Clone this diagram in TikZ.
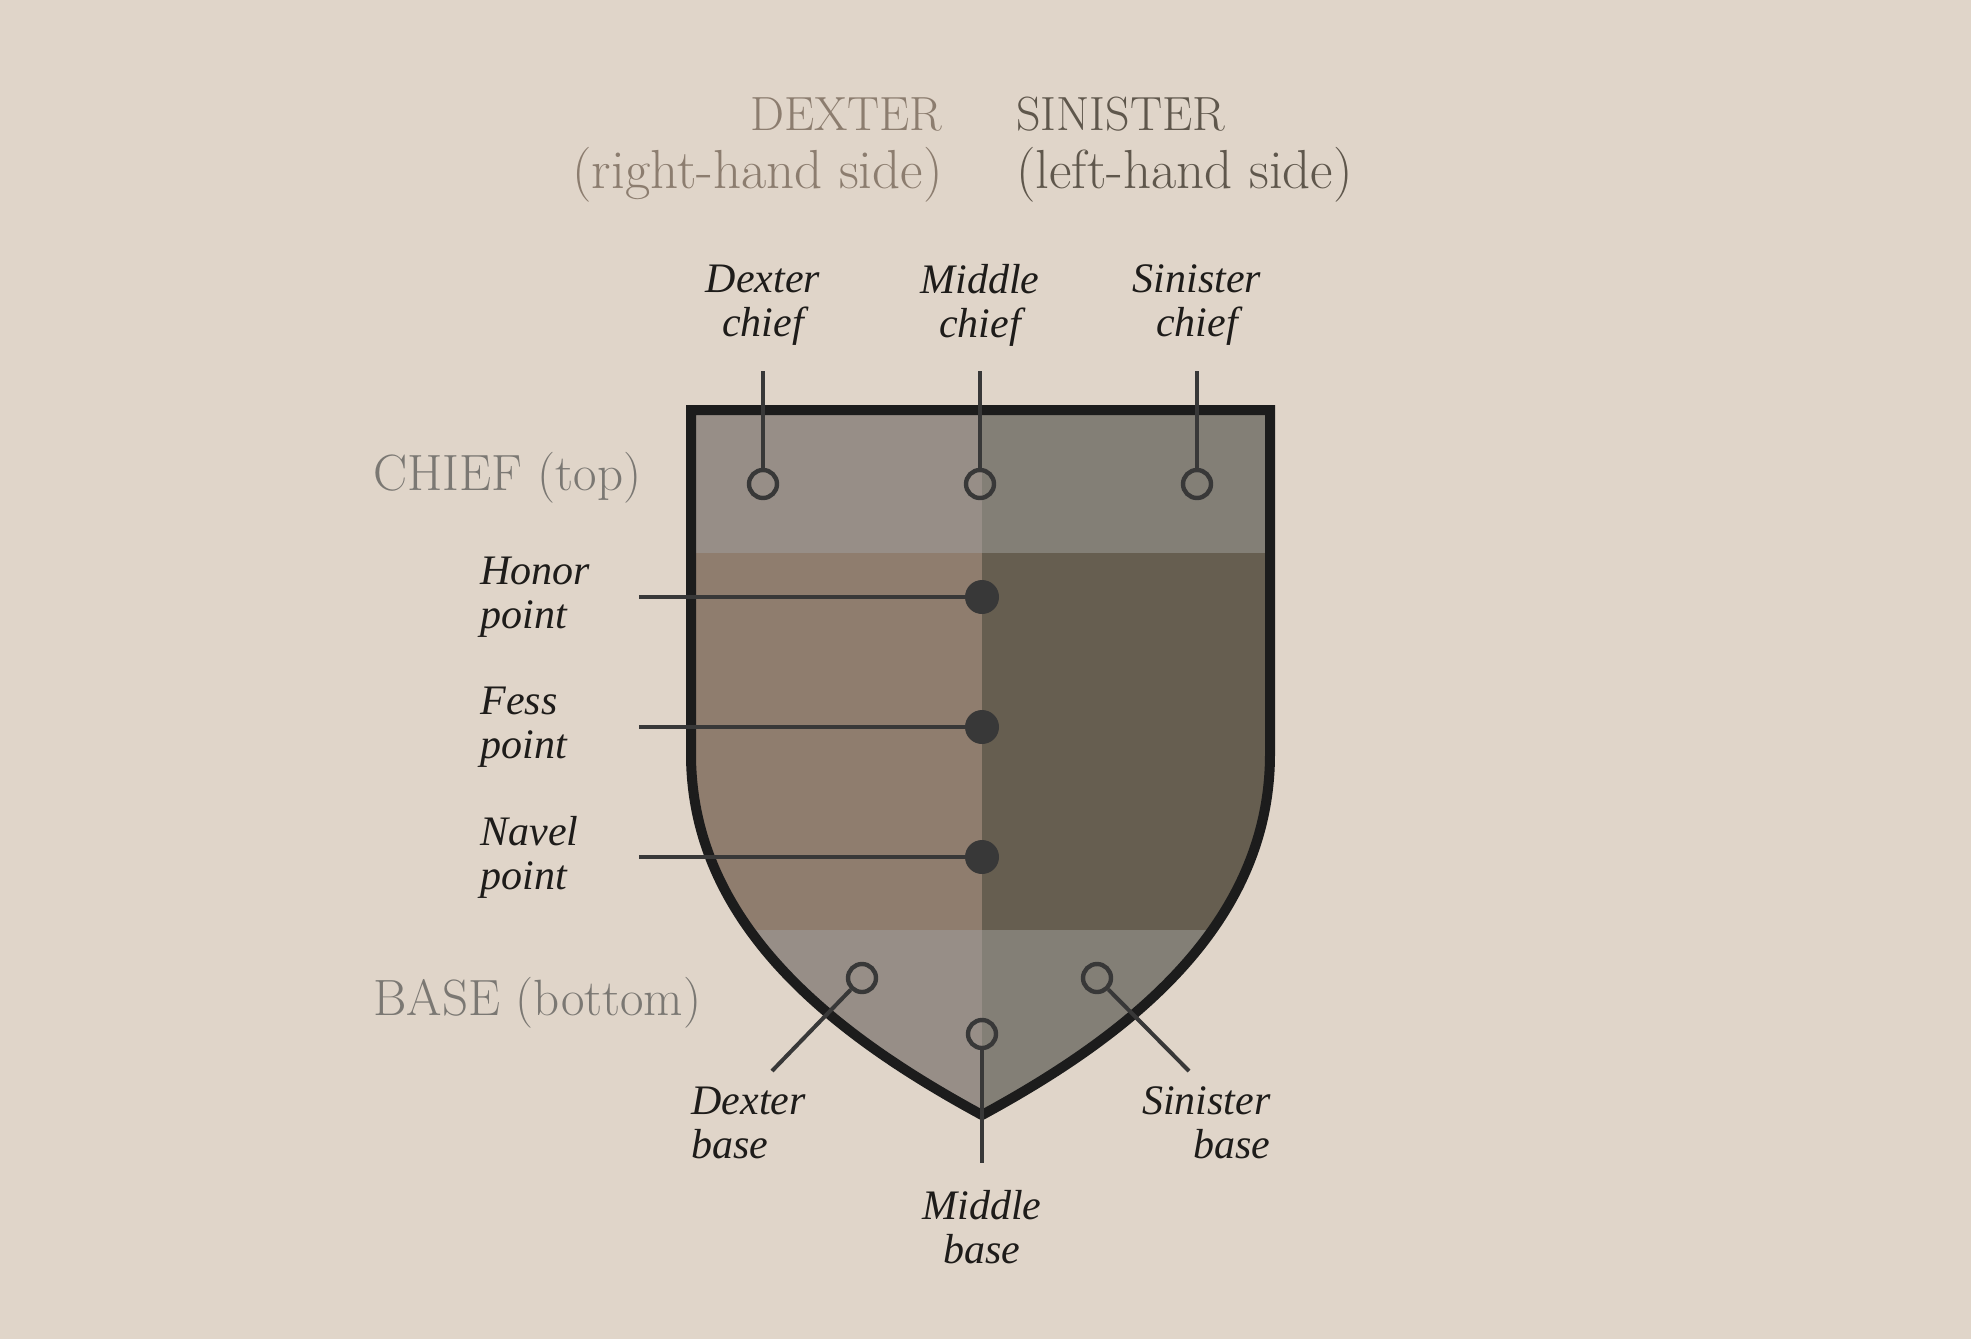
\documentclass[tikz,border=0pt]{standalone}
\usepackage{fontspec}
\usepackage{xcolor}
\usepackage{tikz}
\newfontfamily\lblfont{Liberation Serif}
\newcommand\capsline[1]{{\fontsize{24}{29}\selectfont #1}}

\definecolor{bg}{HTML}{E0D5C9}
\definecolor{chiefL}{HTML}{978E87}
\definecolor{chiefR}{HTML}{837F76}
\definecolor{midL}{HTML}{8F7D6E}
\definecolor{midR}{HTML}{665E50}
\definecolor{rim}{HTML}{1C1C1C}
\definecolor{pin}{HTML}{383838}
\definecolor{dextext}{HTML}{8C7D6F}
\definecolor{sintext}{HTML}{5F574C}
\definecolor{parttext}{HTML}{7B7873}
\definecolor{lbltext}{HTML}{1E1C1A}

\begin{document}
\begin{tikzpicture}[x=0.5pt,y=-0.5pt,
    head/.style={font=\fontsize{27.5}{29}\selectfont, inner sep=0pt},
    part/.style={font=\fontsize{25.5}{28}\selectfont, text=parttext, inner sep=0pt, anchor=west},
    lbl/.style={font=\fontsize{21}{22}\selectfont\lblfont\itshape, text=lbltext, inner sep=0pt},
    ring/.style={circle, draw=pin, line width=2.2pt, minimum size=14pt, inner sep=0pt},
    spot/.style={circle, fill=pin, minimum size=17pt, inner sep=0pt},
    pinline/.style={draw=pin, line width=2pt}]

    \fill[bg] (0,0) rectangle (1971,1339);
    \useasboundingbox (0,0) rectangle (1971,1339);

    % the field, in bands
    \begin{scope}
        \clip (691,410) -- (1270,410) -- (1270,754)
            .. controls (1270,930) and (1120,1040) .. (982,1115)
            .. controls (844,1040) and (691,930) .. (691,754) -- cycle;
        \fill[chiefL] (680,400) rectangle (982,553);
        \fill[chiefR] (982,400) rectangle (1280,553);
        \fill[midL] (680,553) rectangle (982,930);
        \fill[midR] (982,553) rectangle (1280,930);
        \fill[chiefL] (680,930) rectangle (982,1130);
        \fill[chiefR] (982,930) rectangle (1280,1130);
    \end{scope}
    \draw[rim, line width=5pt, line join=miter] (691,410) -- (1270,410) -- (1270,754)
        .. controls (1270,930) and (1120,1040) .. (982,1115)
        .. controls (844,1040) and (691,930) .. (691,754) -- cycle;

    \node [head, text=dextext, align=right, anchor=east] (dexter) at (943,150) {\capsline{DEXTER}\\(right-hand side)};
    \node [head, text=sintext, align=left, anchor=west] (sinister) at (1016,150) {\capsline{SINISTER}\\(left-hand side)};
    \node [part] (chief) at (373,478) {CHIEF (top)};
    \node [part] (base) at (373,1003) {BASE (bottom)};

    \node [lbl, align=center] (dcl) at (763,305) {Dexter\\chief};
    \node [lbl, align=center] (mcl) at (980,305) {Middle\\chief};
    \node [lbl, align=center] (scl) at (1197,305) {Sinister\\chief};
    \coordinate (dct) at (763,371);
    \coordinate (mct) at (980,371);
    \coordinate (sct) at (1197,371);
    \node [ring] (dc) at (763,484) {};
    \node [ring] (mc) at (980,484) {};
    \node [ring] (sc) at (1197,484) {};
    \draw [pinline] (dct) -- (dc);
    \draw [pinline] (mct) -- (mc);
    \draw [pinline] (sct) -- (sc);

    \node [lbl, align=left, anchor=west] (hpl) at (480,597) {Honor\\point};
    \node [lbl, align=left, anchor=west] (fpl) at (480,727) {Fess\\point};
    \node [lbl, align=left, anchor=west] (npl) at (480,857) {Navel\\point};
    \coordinate (hpt) at (639,597);
    \coordinate (fpt) at (639,727);
    \coordinate (npt) at (639,857);
    \node [spot] (hp) at (982,597) {};
    \node [spot] (fp) at (982,727) {};
    \node [spot] (np) at (982,857) {};
    \draw [pinline] (hpt) -- (hp.center);
    \draw [pinline] (fpt) -- (fp.center);
    \draw [pinline] (npt) -- (np.center);

    \node [ring] (db) at (862,978) {};
    \node [ring] (sb) at (1097,978) {};
    \node [ring] (mb) at (982,1034) {};
    \coordinate (dbt) at (772,1071);
    \coordinate (sbt) at (1189,1071);
    \coordinate (mbt) at (982,1163);
    \draw [pinline] (db) -- (dbt);
    \draw [pinline] (sb) -- (sbt);
    \draw [pinline] (mb) -- (mbt);
    \node [lbl, align=left, anchor=west] (dbl) at (691,1123) {Dexter\\base};
    \node [lbl, align=right, anchor=east] (sbl) at (1271,1123) {Sinister\\base};
    \node [lbl, align=center] (mbl) at (982,1227) {Middle\\base};

\end{tikzpicture}
\end{document}
